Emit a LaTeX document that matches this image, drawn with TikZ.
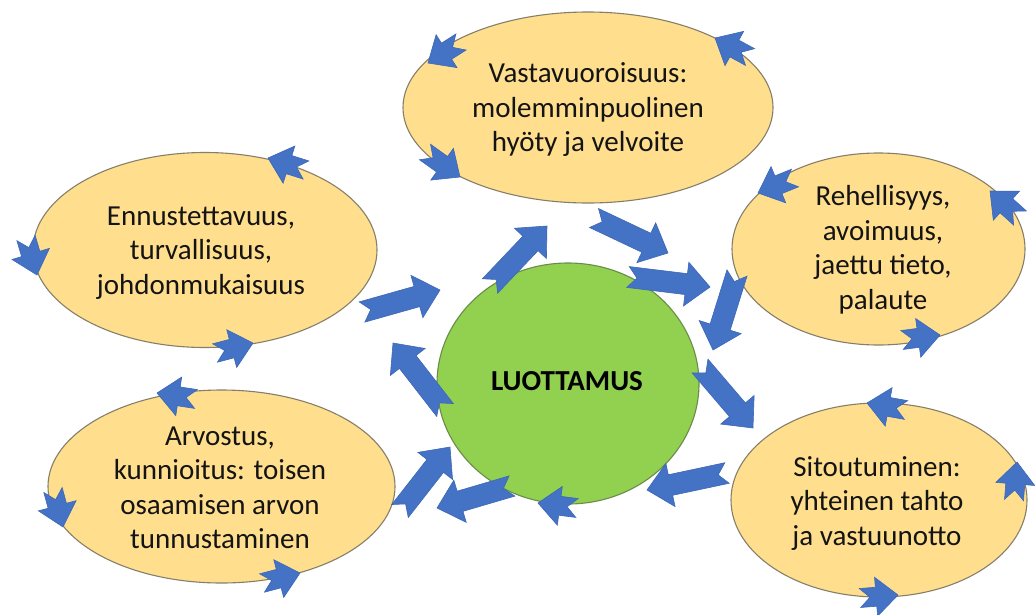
\documentclass[tikz,border=0pt]{standalone}
\usepackage{fontspec}
\setmainfont{Carlito}
\usetikzlibrary{shapes.geometric,calc}

\definecolor{petalfill}{HTML}{FFDF8E}
\definecolor{petalrim}{HTML}{857F6A}
\definecolor{corefill}{HTML}{92D050}
\definecolor{corerim}{HTML}{6A8C4A}
\definecolor{flowfill}{HTML}{4472C4}
\definecolor{flowrim}{HTML}{3D67B8}

\tikzset{
  petal/.style={ellipse, draw=petalrim, line width=1.1pt, fill=petalfill, inner sep=0pt},
  core/.style={ellipse, draw=corerim, line width=1.1pt, fill=corefill, inner sep=0pt},
  petaltext/.style={align=center, text=black!92, font=\fontsize{29}{34.5}\selectfont, inner sep=0pt},
  coretext/.style={text=black, font=\fontsize{29}{34}\selectfont\bfseries, inner sep=0pt},
  flowshape/.style={fill=flowfill, draw=flowrim, line width=0.6pt, line join=miter},
}

% notched block arrow from #1 (tail) to #2 (tip):
% #3 half shaft width, #4 half head width, #5 head length, #6 notch depth
\newcommand\flowarrow[6]{%
  \path[flowshape] let \p1=(#1), \p2=(#2),
      \n1={atan2(\y2-\y1,\x2-\x1)}, \n2={veclen(\x2-\x1,\y2-\y1)} in
    [shift={(\p1)}, rotate=\n1]
    (0,#3) -- ({\n2-#5},#3) -- ({\n2-#5},#4) -- (\n2,0) --
    ({\n2-#5},-#4) -- ({\n2-#5},-#3) -- (0,-#3) -- (#6,0) -- cycle;}
\newcommand\bigarrow[2]{\flowarrow{#1}{#2}{10.5}{22}{24}{9}}
\newcommand\smallarrow[2]{\flowarrow{#1}{#2}{9.5}{19.5}{22}{10}}

\begin{document}
\begin{tikzpicture}[x=1pt, y=-1pt]
  \fill[white] (0,0) rectangle (1035,614);
  \useasboundingbox (0,0) rectangle (1035,614);

  % ellipses
  \node[petal, minimum width=370pt, minimum height=191pt] (top)   at (588,107.5) {};
  \node[petal, minimum width=344pt, minimum height=195pt] (left)  at (205,250) {};
  \node[petal, minimum width=347pt, minimum height=193pt] (low)   at (221.5,486.5) {};
  \node[petal, minimum width=293pt, minimum height=192pt] (right) at (878.5,249) {};
  \node[petal, minimum width=296pt, minimum height=194pt] (bind)  at (879,500) {};
  \node[core,  minimum width=262pt, minimum height=241pt] (trust) at (568,383.5) {};

  % texts
  \node[petaltext] (toptext)   at (588,110)   {Vastavuoroisuus:\\molemminpuolinen\\hyöty ja velvoite};
  \node[petaltext] (lefttext)  at (201,253)   {Ennustettavuus,\\turvallisuus,\\johdonmukaisuus};
  \node[petaltext] (lowtext)   at (220,488)   {Arvostus,\\kunnioitus: toisen\\osaamisen arvon\\tunnustaminen};
  \node[petaltext] (righttext) at (883,250)   {Rehellisyys,\\avoimuus,\\jaettu tieto,\\palaute};
  \node[petaltext] (bindtext)  at (877,503)   {Sitoutuminen:\\yhteinen tahto\\ja vastuunotto};
  \node[coretext]  (trusttext) at (567,381)   {LUOTTAMUS};

  % large arrows around the centre
  \coordinate (a1t) at (362,312);  \coordinate (a1h) at (440,290);
  \coordinate (a2t) at (490,286);  \coordinate (a2h) at (547,226);
  \coordinate (a3t) at (594,218);  \coordinate (a3h) at (668,253);
  \coordinate (a4t) at (628,277);  \coordinate (a4h) at (710,287);
  \coordinate (a5t) at (737,273);  \coordinate (a5h) at (713,350);
  \coordinate (a6t) at (700,366);  \coordinate (a6h) at (753,428);
  \coordinate (a7t) at (727,473);  \coordinate (a7h) at (647,490);
  \coordinate (a9t) at (512,486);  \coordinate (a9h) at (437,508);
  \coordinate (a10t) at (400,511); \coordinate (a10h) at (450,447);
  \coordinate (a11t) at (445,410); \coordinate (a11h) at (393,343);
  \foreach \k in {1,2,3,4,5,6,7,9,10,11} {\bigarrow{a\k t}{a\k h}}

  % small arrows along the ellipse rims
  \coordinate (s1t) at (461,42);   \coordinate (s1h) at (428,63);
  \coordinate (s2t) at (750,57);   \coordinate (s2h) at (715,38);
  \coordinate (s3t) at (425,152);  \coordinate (s3h) at (460,177);
  \coordinate (s4t) at (306,170);  \coordinate (s4h) at (268,158);
  \coordinate (s5t) at (26,238);   \coordinate (s5h) at (37,275);
  \coordinate (s6t) at (215,353);  \coordinate (s6h) at (253,343);
  \coordinate (s7t) at (196,399);  \coordinate (s7h) at (157,393);
  \coordinate (s8t) at (53,490);   \coordinate (s8h) at (63,527);
  \coordinate (s9t) at (262,583);  \coordinate (s9h) at (300,573);
  \coordinate (s10t) at (795,178); \coordinate (s10h) at (758,193);
  \coordinate (s11t) at (1020,218);\coordinate (s11h) at (990,191);
  \coordinate (s12t) at (902,340); \coordinate (s12h) at (940,335);
  \coordinate (s13t) at (906,410); \coordinate (s13h) at (867,403);
  \coordinate (s14t) at (1014,500);\coordinate (s14h) at (1017,462);
  \coordinate (s15t) at (860,598); \coordinate (s15h) at (898,595);
  \coordinate (s16t) at (577,508); \coordinate (s16h) at (538,503);
  \foreach \k in {1,...,16} {\smallarrow{s\k t}{s\k h}}
\end{tikzpicture}
\end{document}
